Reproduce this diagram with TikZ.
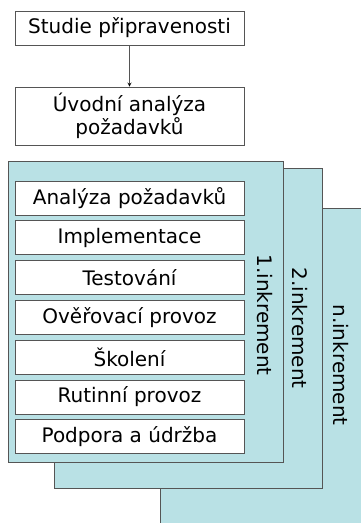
\documentclass[tikz,border=0pt]{standalone}
\usepackage{fontspec}
\setmainfont{DejaVu Sans}
\usetikzlibrary{positioning}
\definecolor{incrfill}{HTML}{B9E1E5}
\definecolor{linegray}{HTML}{555555}

\begin{document}
\begin{tikzpicture}[>=stealth,x=1pt,y=-1pt,node distance=5pt,line width=0.8pt,
    step box/.style={draw=linegray,fill=white,minimum width=229pt,minimum height=34pt,inner sep=0pt,font=\fontsize{20}{23}\selectfont},
    incr panel/.style={draw=linegray,fill=incrfill,anchor=north west,inner sep=0pt},
    incr label/.style={rotate=-90,inner sep=0pt,font=\fontsize{20}{23}\selectfont}]

    \useasboundingbox (0,0) rectangle (360,523);

    % increment panels, back to front
    \node[incr panel, minimum width=220pt, minimum height=340pt] (p3) at (160,208) {};
    \node[incr panel, minimum width=268pt, minimum height=320pt] (p2) at (54,168) {};
    \node[incr panel, minimum width=275pt, minimum height=301pt] (p1) at (8,161) {};

    \node[incr label] (l3) at (341,365) {n.inkrement};
    \node[incr label] (l2) at (300,328) {2.inkrement};
    \node[incr label] (l1) at (265,315) {1.inkrement};

    \node[step box] (studie) at (129.5,28) {Studie připravenosti};
    \node[step box, minimum height=58pt, align=center] (uvod) at (129.5,116) {Úvodní analýza\\požadavků};

    \node[step box] (analyza) at (129.5,198) {Analýza požadavků};
    \node[step box] (impl) [below=of analyza] {Implementace};
    \node[step box] (test) [below=of impl] {Testování};
    \node[step box] (over) [below=of test] {Ověřovací provoz};
    \node[step box] (skol) [below=of over] {Školení};
    \node[step box] (rutin) [below=of skol] {Rutinní provoz};
    \node[step box] (podp) [below=of rutin] {Podpora a údržba};

    \path[->,draw=linegray]
        (studie) edge (uvod)
    ;
\end{tikzpicture}
\end{document}
